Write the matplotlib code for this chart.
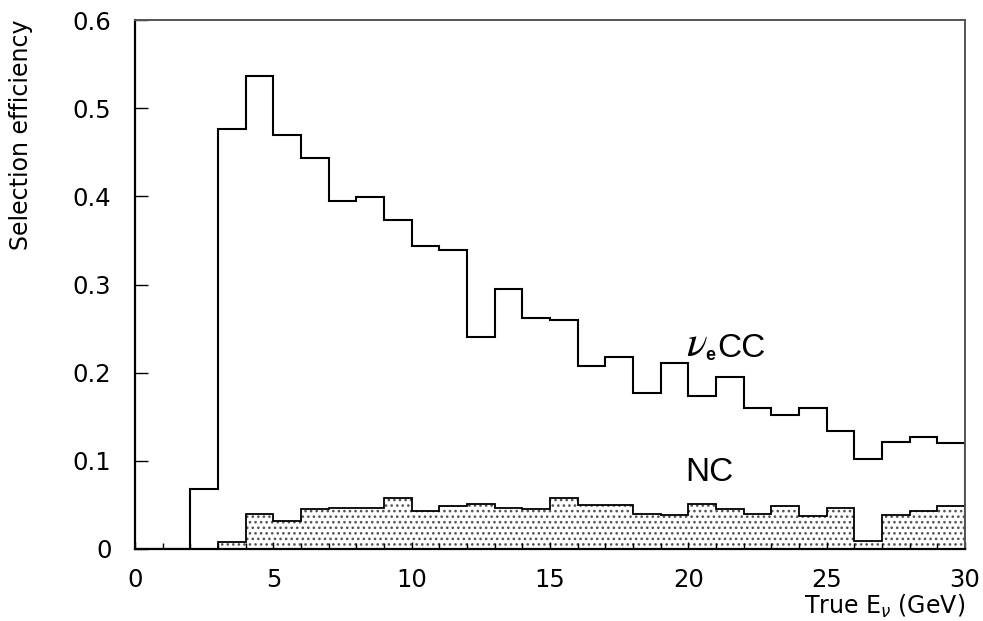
import numpy as np
import matplotlib
matplotlib.use("Agg")
import matplotlib.pyplot as plt

# 1 GeV bins from 0 to 30 GeV
bin_edges = np.arange(0, 31, 1)

# nu_e CC selection efficiency per bin
cc_eff = [0.0, 0.0, 0.068, 0.476, 0.537, 0.470, 0.443, 0.395, 0.399, 0.373,
          0.344, 0.339, 0.241, 0.295, 0.262, 0.260, 0.207, 0.218, 0.177, 0.211,
          0.173, 0.195, 0.160, 0.152, 0.160, 0.134, 0.102, 0.121, 0.127, 0.120]

# NC selection efficiency per bin
nc_eff = [0.0, 0.0, 0.0, 0.0075, 0.040, 0.032, 0.045, 0.046, 0.047, 0.058,
          0.043, 0.049, 0.051, 0.047, 0.045, 0.058, 0.050, 0.050, 0.040, 0.039,
          0.051, 0.045, 0.040, 0.049, 0.037, 0.046, 0.009, 0.039, 0.043, 0.049]

x_ticks = [0, 5, 10, 15, 20, 25, 30]
y_ticks = [0, 0.1, 0.2, 0.3, 0.4, 0.5, 0.6]
y_tick_labels = ["0", "0.1", "0.2", "0.3", "0.4", "0.5", "0.6"]

plt.rcParams["font.family"] = ["DejaVu Sans"]
plt.rcParams["hatch.linewidth"] = 1.1
plt.rcParams["hatch.color"] = "#555555"

W, H = 983, 621
fig = plt.figure(figsize=(W / 100, H / 100), dpi=100)
ax = fig.add_axes([135 / W, 72 / H, 830 / W, 529 / H])

# NC: dotted filled histogram
ax.stairs(nc_eff, bin_edges, fill=True, facecolor="white", edgecolor="#555555",
          hatch="...", linewidth=0.0)
ax.stairs(nc_eff, bin_edges, color="black", linewidth=1.3)

# nu_e CC: outline histogram
ax.stairs(cc_eff, bin_edges, color="black", linewidth=1.5)

ax.set_xlim(0, 30)
ax.set_ylim(0, 0.6)
ax.set_xticks(x_ticks)
ax.set_xticklabels([str(t) for t in x_ticks])
ax.set_yticks(y_ticks)
ax.set_yticklabels(y_tick_labels)
ax.set_xticks(np.arange(0, 31, 1), minor=True)

ax.tick_params(axis="both", which="major", direction="in", labelsize=17.5,
               length=5, width=1.0)
ax.tick_params(axis="x", which="major", pad=14)
ax.tick_params(axis="y", which="major", length=9, pad=17)
ax.tick_params(axis="x", which="minor", direction="in", length=4, width=1.0)

for side in ["left", "bottom"]:
    ax.spines[side].set_linewidth(1.6)
for side in ["top", "right"]:
    ax.spines[side].set_linewidth(1.4)
    ax.spines[side].set_color("#555555")

fig.text(21 / W, 1 - 20 / H, "Selection efficiency", rotation=90,
         fontsize=17, ha="center", va="top")
fig.text(965 / W, 1 - 606 / H, r"True E$_{\nu}$ (GeV)", fontsize=17,
         ha="right", va="center")

# Curve labels
ax.text(19.9, 0.219, r"$\nu$", fontsize=31, ha="left", va="baseline",
        math_fontfamily="stix")
ax.text(20.62, 0.214, "e", fontsize=13, fontweight="bold", ha="left",
        va="baseline", family="Liberation Sans")
ax.text(21.05, 0.218, "CC", fontsize=24, ha="left", va="baseline",
        family="Liberation Sans")
ax.text(19.9, 0.077, "NC", fontsize=24, ha="left", va="baseline",
        family="Liberation Sans")

fig.savefig("out.png", dpi=100)
